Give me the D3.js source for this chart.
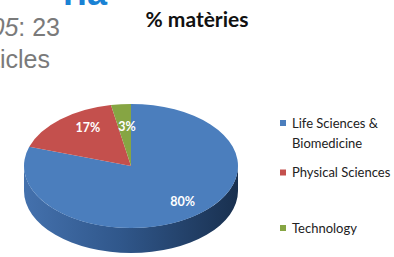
<!DOCTYPE html>
<html>
<head>
<meta charset="utf-8">
<script src="https://cdn.jsdelivr.net/npm/d3@7"></script>
<style>
	body { margin: 0; background: #fff; }
	svg { display: block; }
</style>
</head>
<body>
<svg id="pie_svg" width="394" height="257"></svg>
<script>
// data
var categories = ["Life Sciences & Biomedicine", "Physical Sciences", "Technology"];
var values = [80, 17, 3];
var legend_lines = [["Life Sciences &", "Biomedicine"], ["Physical Sciences"], ["Technology"]];
var colors = ["#4b7ebd", "#c4504d", "#86a543"];
var title = "% matèries";

var svg = d3.select("#pie_svg"),
	cx = 131, cy = 166,
	rx = 107, ry = 62,
	depth = 25;

var data = categories.map(function(c, i) { return {name: c, value: values[i], color: colors[i], lines: legend_lines[i]}; });

var pie = d3.pie().sort(null).value(function(d) { return d.value; });
var arcs = pie(data);

function pt(a, dy) {
	return [cx + rx * Math.sin(a), cy - ry * Math.cos(a) + (dy || 0)];
}

// cropped text from the page behind the chart
svg.append("text")
	.attr("x", 63).attr("y", 5)
	.style("font-family", "Liberation Sans, Arial, sans-serif")
	.style("font-weight", "bold")
	.style("font-size", "36px")
	.style("fill", "#1a82d4")
	.text("ria");

var t1 = svg.append("text")
	.attr("x", 60).attr("y", 36)
	.attr("text-anchor", "end")
	.style("font-family", "Liberation Sans, Arial, sans-serif")
	.style("font-size", "25px")
	.style("fill", "#7a7a7a");
t1.append("tspan").style("font-style", "italic").text("2005");
t1.append("tspan").text(": 23");

svg.append("text")
	.attr("x", 50).attr("y", 68)
	.attr("text-anchor", "end")
	.style("font-family", "Liberation Sans, Arial, sans-serif")
	.style("font-size", "25px")
	.style("fill", "#7a7a7a")
	.text("articles");

// title
svg.append("text")
	.attr("x", 197).attr("y", 27)
	.attr("text-anchor", "middle")
	.style("font-family", "Lato, sans-serif")
	.style("font-weight", "bold")
	.style("font-size", "21px")
	.style("fill", "#111")
	.text(title);

var defs = svg.append("defs");
var grad = defs.append("linearGradient")
	.attr("id", "side_grad")
	.attr("gradientUnits", "userSpaceOnUse")
	.attr("x1", cx - rx).attr("x2", cx + rx)
	.attr("y1", 0).attr("y2", 0);
grad.append("stop").attr("offset", 0).attr("stop-color", "#4471ad");
grad.append("stop").attr("offset", 0.45).attr("stop-color", "#30578b");
grad.append("stop").attr("offset", 1).attr("stop-color", "#19304f");

// side walls (front half only)
var front0 = Math.PI / 2, front1 = Math.PI * 3 / 2;
svg.append("g")
	.attr("class", "sides")
	.selectAll("path")
	.data(arcs.filter(function(d) { return d.endAngle > front0 && d.startAngle < front1; }))
	.enter()
	.append("path")
	.attr("d", function(d) {
		var s = Math.max(d.startAngle, front0),
			e = Math.min(d.endAngle, front1),
			p0 = pt(s), p1 = pt(e), p2 = pt(e, depth), p3 = pt(s, depth);
		return "M" + p0 + "A" + rx + "," + ry + " 0 0 1 " + p1 +
			"L" + p2 + "A" + rx + "," + ry + " 0 0 0 " + p3 + "Z";
	})
	.style("fill", function(d) { return d.index === 0 ? "url(#side_grad)" : d3.color(d.data.color).darker(1); });

// top face
svg.append("g")
	.attr("class", "tops")
	.selectAll("path")
	.data(arcs)
	.enter()
	.append("path")
	.attr("d", function(d) {
		var p0 = pt(d.startAngle), p1 = pt(d.endAngle),
			large = (d.endAngle - d.startAngle) > Math.PI ? 1 : 0;
		return "M" + [cx, cy] + "L" + p0 + "A" + rx + "," + ry + " 0 " + large + " 1 " + p1 + "Z";
	})
	.style("fill", function(d) { return d.data.color; });

// percentage labels (radius fractions tuned per slice, x and y separately)
var total = d3.sum(values);
var fx = [0.82, 0.61, 0.4],
	fy = [0.72, 0.82, 0.63];
svg.append("g")
	.attr("class", "labels")
	.selectAll("text")
	.data(arcs)
	.enter()
	.append("text")
	.attr("transform", function(d) {
		var m = (d.startAngle + d.endAngle) / 2,
			x = cx + rx * fx[d.index] * Math.sin(m),
			y = cy - ry * fy[d.index] * Math.cos(m);
		if (d.index === 2) x = pt(d.endAngle)[0] - 4;
		return "translate(" + x + "," + y + ")";
	})
	.attr("text-anchor", "middle")
	.attr("dy", "0.35em")
	.style("font-family", "Lato, sans-serif")
	.style("font-weight", "bold")
	.style("font-size", "12.5px")
	.style("fill", "#fff")
	.text(function(d) { return Math.round(d.value / total * 100) + "%"; });

// legend
var ly = d3.scalePoint().domain(categories).range([123, 228]);
var legend = svg.append("g")
	.attr("class", "legend")
	.selectAll("g")
	.data(data)
	.enter()
	.append("g")
	.attr("transform", function(d) { return "translate(280," + (ly(d.name) - (d.name === categories[1] ? 3 : 0)) + ")"; });

legend.append("rect")
	.attr("x", 0).attr("y", -3)
	.attr("width", 6).attr("height", 6)
	.style("fill", function(d) { return d.color; });

legend.append("text")
	.attr("x", 12)
	.style("font-family", "Lato, sans-serif")
	.style("font-size", "13px")
	.style("fill", "#222")
	.selectAll("tspan")
	.data(function(d) { return d.lines; })
	.enter()
	.append("tspan")
	.attr("x", 12)
	.attr("y", function(d, i) { return i * 20; })
	.attr("dy", "0.35em")
	.text(function(d) { return d; });
</script>
</body>
</html>
